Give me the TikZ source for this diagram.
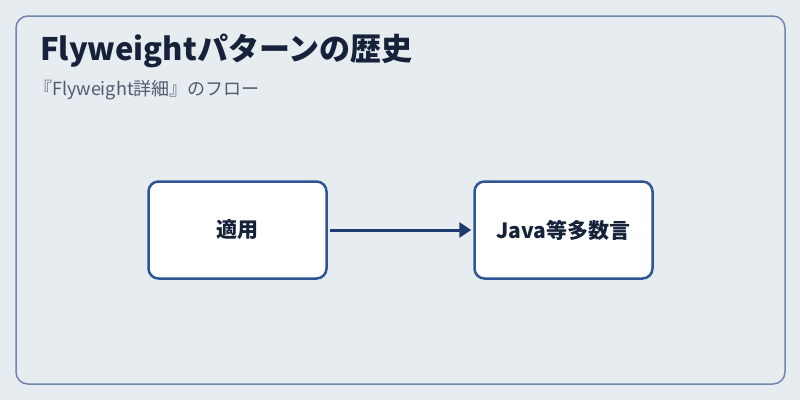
\documentclass[tikz,border=0pt]{standalone}
\usepackage{fontspec}
\setmainfont{Noto Sans CJK JP}
\usetikzlibrary{arrows.meta}
\definecolor{bg}{HTML}{E7ECF1}
\definecolor{frame}{HTML}{6F86B1}
\definecolor{boxline}{HTML}{2F5597}
\definecolor{arrowc}{HTML}{1F3A6E}
\definecolor{titlec}{HTML}{16213A}
\definecolor{subc}{HTML}{4F5B6E}
\tikzset{
  stepbox/.style={draw=boxline, line width=2.5pt, fill=white, rounded corners=10pt,
    minimum width=178pt, minimum height=97pt, inner sep=0pt,
    font=\fontsize{21}{24}\selectfont\bfseries, text=titlec},
  flow/.style={draw=arrowc, line width=3pt, -{Triangle[length=12pt,width=15pt]},
    shorten <=2pt, shorten >=2pt}
}
\begin{document}
\begin{tikzpicture}[x=1pt,y=-1pt]
\useasboundingbox (0,0) rectangle (800,400);
\fill[bg] (0,0) rectangle (800,400);
\draw[frame, line width=1.5pt, rounded corners=12pt] (16,16) rectangle (785,384);
\node[anchor=base west, inner sep=0pt, text=titlec, font=\fontsize{31}{36}\selectfont\bfseries] (title) at (40,60) {Flyweightパターンの歴史};
\node[anchor=base west, inner sep=0pt, text=subc, font=\fontsize{18}{22}\selectfont] (sub) at (34,95) {『Flyweight詳細』のフロー};
\node[stepbox] (a) at (237.5,230) {適用};
\node[stepbox] (b) at (563.5,230) {Java等多数言};
\draw[flow] (a.east) -- (b.west);
\end{tikzpicture}
\end{document}
